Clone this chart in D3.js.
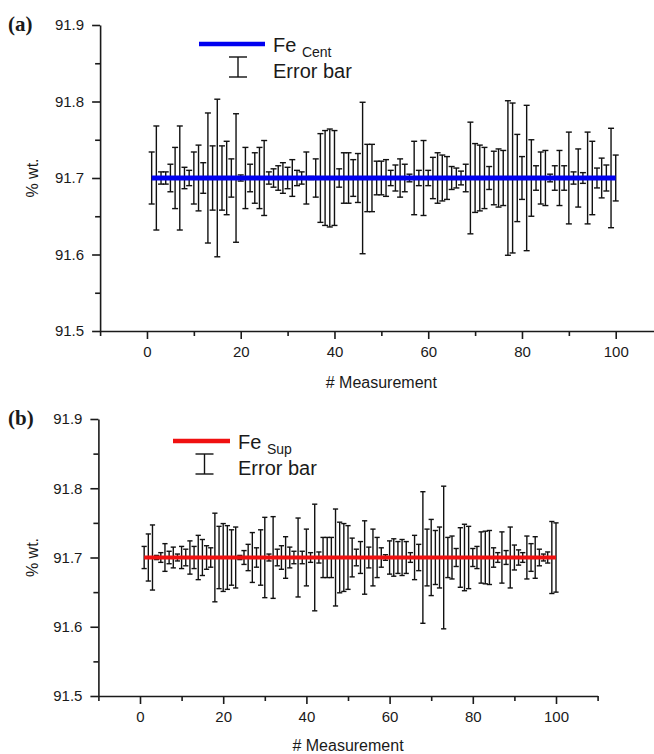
<!DOCTYPE html>
<html>
<head>
<meta charset="utf-8">
<script src="https://cdn.jsdelivr.net/npm/d3@7"></script>
<style>
  body { margin: 0; background: #fff; }
  svg text { font-family: "Liberation Sans", Arial, sans-serif; fill: #1a1a1a; }
</style>
</head>
<body>
<svg id="chart"></svg>
<script>
// measurement numbers (x categories)
var measurements = d3.range(1, 101);

// mean value of each series
var meanCent = 91.7;
var meanSup = 91.7;

// half-widths of the error bars, % wt.
var errCent = [
  0.034, 0.068, 0.008, 0.008, 0.018, 0.040, 0.068, 0.014, 0.010, 0.034,
  0.043, 0.020, 0.085, 0.042, 0.103, 0.042, 0.048, 0.025, 0.084, 0.004,
  0.040, 0.018, 0.033, 0.040, 0.049, 0.008, 0.012, 0.016, 0.020, 0.014,
  0.024, 0.010, 0.008, 0.034, 0.002, 0.025, 0.058, 0.062, 0.064, 0.062,
  0.012, 0.033, 0.033, 0.024, 0.032, 0.099, 0.044, 0.044, 0.022, 0.022,
  0.024, 0.010, 0.017, 0.025, 0.018, 0.005, 0.048, 0.010, 0.049, 0.010,
  0.027, 0.033, 0.030, 0.028, 0.015, 0.013, 0.009, 0.018, 0.073, 0.045,
  0.043, 0.040, 0.015, 0.035, 0.038, 0.036, 0.101, 0.098, 0.057, 0.028,
  0.095, 0.050, 0.016, 0.034, 0.036, 0.005, 0.016, 0.036, 0.016, 0.060,
  0.008, 0.038, 0.007, 0.060, 0.048, 0.013, 0.026, 0.017, 0.065, 0.030
];
var errSup = [
  0.016, 0.034, 0.047, 0.003, 0.007, 0.020, 0.009, 0.015, 0.005, 0.016,
  0.012, 0.024, 0.016, 0.032, 0.026, 0.017, 0.014, 0.064, 0.045, 0.049,
  0.046, 0.040, 0.044, 0.003, 0.010, 0.019, 0.036, 0.014, 0.040, 0.058,
  0.005, 0.059, 0.012, 0.017, 0.030, 0.015, 0.009, 0.057, 0.009, 0.041,
  0.007, 0.077, 0.008, 0.029, 0.029, 0.029, 0.070, 0.051, 0.049, 0.046,
  0.028, 0.012, 0.023, 0.053, 0.015, 0.041, 0.029, 0.014, 0.004, 0.024,
  0.027, 0.023, 0.026, 0.023, 0.007, 0.032, 0.019, 0.095, 0.041, 0.055,
  0.039, 0.044, 0.103, 0.029, 0.031, 0.013, 0.043, 0.048, 0.045, 0.013,
  0.016, 0.037, 0.038, 0.039, 0.014, 0.007, 0.037, 0.010, 0.044, 0.018,
  0.011, 0.007, 0.031, 0.020, 0.030, 0.012, 0.005, 0.008, 0.052, 0.050
];

// axis ticks
var yTicks = [91.5, 91.6, 91.7, 91.8, 91.9];
var yMinor = [91.55, 91.65, 91.75, 91.85];
var xTicks = [0, 20, 40, 60, 80, 100];
var xMinor = [-10, 10, 30, 50, 70, 90, 110];

var svg = d3.select('#chart').attr('width', 654).attr('height', 754);

function drawPanel(p) {
  var g = svg.append('g');
  var x = d3.scaleLinear().domain([-10, 110]).range([p.left, p.right]);
  var y = d3.scaleLinear().domain([91.5, 91.9]).range([p.bottom, p.top]);

  // axes
  g.append('g').attr('transform', 'translate(' + p.left + ',0)')
    .call(d3.axisLeft(y).tickValues(yTicks).tickSize(8).tickSizeOuter(0)
      .tickPadding(8).tickFormat(d3.format('.1f')));
  g.append('g').attr('transform', 'translate(' + p.left + ',0)')
    .call(d3.axisLeft(y).tickValues(yMinor).tickSize(5).tickFormat(''))
    .select('.domain').remove();

  g.append('g').attr('transform', 'translate(0,' + p.bottom + ')')
    .call(d3.axisBottom(x).tickValues(xTicks).tickSize(8).tickSizeOuter(0)
      .tickPadding(7));
  g.append('g').attr('transform', 'translate(0,' + p.bottom + ')')
    .call(d3.axisBottom(x).tickValues(xMinor).tickSize(5).tickFormat(''))
    .select('.domain').remove();

  g.selectAll('.domain, .tick line').attr('stroke', '#1a1a1a').attr('stroke-width', 1.6);
  g.selectAll('.tick text').attr('font-size', 15)
    .style('font-family', '"Liberation Sans", Arial, sans-serif').attr('fill', '#1a1a1a');

  // axis titles
  g.append('text')
    .attr('transform', 'translate(38,' + y(91.7) + ') rotate(-90)')
    .attr('text-anchor', 'middle')
    .attr('font-size', 16)
    .text('% wt.');
  g.append('text')
    .attr('x', x(50)).attr('y', p.titleY)
    .attr('text-anchor', 'middle')
    .attr('font-size', 16)
    .text('# Measurement');

  // panel letter
  g.append('text')
    .attr('x', 8).attr('y', p.top + 6)
    .attr('font-size', 21)
    .attr('font-weight', 'bold')
    .style('font-family', '"Liberation Serif", "Times New Roman", serif')
    .text(p.letter);

  // error bars
  var bars = g.selectAll('.ebar')
    .data(measurements)
    .enter()
    .append('g')
    .attr('class', 'ebar')
    .attr('stroke', '#111')
    .attr('stroke-width', 1.4);

  bars.append('line')
    .attr('x1', function(d) { return x(d); })
    .attr('x2', function(d) { return x(d); })
    .attr('y1', function(d, i) { return y(p.mean + p.err[i]); })
    .attr('y2', function(d, i) { return y(p.mean - p.err[i]); });
  bars.append('line')
    .attr('x1', function(d) { return x(d) - p.cap; })
    .attr('x2', function(d) { return x(d) + p.cap; })
    .attr('y1', function(d, i) { return y(p.mean + p.err[i]); })
    .attr('y2', function(d, i) { return y(p.mean + p.err[i]); });
  bars.append('line')
    .attr('x1', function(d) { return x(d) - p.cap; })
    .attr('x2', function(d) { return x(d) + p.cap; })
    .attr('y1', function(d, i) { return y(p.mean - p.err[i]); })
    .attr('y2', function(d, i) { return y(p.mean - p.err[i]); });

  // mean line
  var line = d3.line()
    .x(function(d) { return x(d); })
    .y(function() { return y(p.mean); });
  g.append('path')
    .datum(measurements)
    .attr('d', line)
    .attr('fill', 'none')
    .attr('stroke', p.color)
    .attr('stroke-width', p.lineWidth);

  // legend
  var lg = g.append('g');
  lg.append('line')
    .attr('x1', p.legX).attr('x2', p.legX + p.legLen)
    .attr('y1', p.legY).attr('y2', p.legY)
    .attr('stroke', p.color).attr('stroke-width', 4.5);
  var sx = p.legX + p.legLen / 2 + p.legShift;
  var ey1 = p.legY + 13, ey2 = p.legY + 33;
  lg.append('line').attr('x1', sx).attr('x2', sx).attr('y1', ey1).attr('y2', ey2)
    .attr('stroke', '#111').attr('stroke-width', 1.4);
  lg.append('line').attr('x1', sx - 9).attr('x2', sx + 9).attr('y1', ey1).attr('y2', ey1)
    .attr('stroke', '#111').attr('stroke-width', 1.4);
  lg.append('line').attr('x1', sx - 9).attr('x2', sx + 9).attr('y1', ey2).attr('y2', ey2)
    .attr('stroke', '#111').attr('stroke-width', 1.4);
  var fe = lg.append('text')
    .attr('x', p.legX + p.legLen + 8).attr('y', p.legY + 8)
    .attr('font-size', 20);
  fe.append('tspan').text('Fe ');
  fe.append('tspan').attr('font-size', 14).attr('dy', 5).text(p.sub);
  lg.append('text')
    .attr('x', p.legX + p.legLen + 8).attr('y', p.legY + 34)
    .attr('font-size', 20)
    .text('Error bar');
}

drawPanel({
  letter: '(a)', err: errCent, mean: meanCent, sub: 'Cent',
  left: 100.1, right: 662.6, top: 25, bottom: 331, titleY: 388,
  color: '#0000f0', lineWidth: 5, cap: 3,
  legX: 199, legY: 44, legLen: 66, legShift: 6
});
drawPanel({
  letter: '(b)', err: errSup, mean: meanSup, sub: 'Sup',
  left: 98.4, right: 597.6, top: 419, bottom: 696, titleY: 751,
  color: '#f01010', lineWidth: 4, cap: 2.6,
  legX: 173, legY: 441, legLen: 57, legShift: 3
});
</script>
</body>
</html>
